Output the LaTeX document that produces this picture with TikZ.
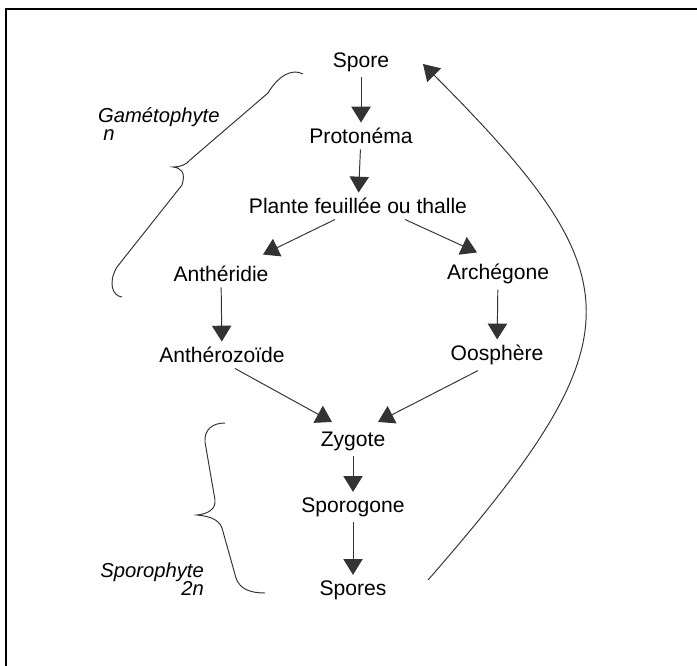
\documentclass[tikz,border=0pt]{standalone}
\usepackage{fontspec}
\setmainfont{Liberation Sans}
\usetikzlibrary{arrows.meta,calc}

\begin{document}
\begin{tikzpicture}[x=0.02cm,y=-0.02cm,
    stage/.style={font=\fontsize{12}{14}\selectfont, inner sep=3pt},
    phase/.style={font=\fontsize{11.5}{10.5}\selectfont\itshape},
    fleche/.style={draw=black!80, line width=0.55pt, -{Triangle[length=9pt,width=11pt]}},
    accolade/.style={draw=black!80, line width=0.55pt}]
    \useasboundingbox (0,0) rectangle (697,666);
    \draw[line width=1.3pt] (6,666) -- (6,9) -- (697,9);
    % life cycle stages
    \node[stage] (spore) at (361,62) {Spore};
    \node[stage] (protonema) at (361,136) {Protonéma};
    \node[stage] (plante) at (358,206) {Plante feuillée ou thalle};
    \node[stage] (antheridie) at (221,274) {Anthéridie};
    \node[stage] (archegone) at (498,274) {Archégone};
    \node[stage] (antherozoide) at (222,355) {Anthérozoïde};
    \node[stage] (oosphere) at (497,355) {Oosphère};
    \node[stage] (zygote) at (353,441) {Zygote};
    \node[stage] (sporogone) at (353,507) {Sporogone};
    \node[stage] (spores) at (353,590) {Spores};
    % phases
    \node[phase, anchor=west, align=left] (gameto) at (92,124) {Gamétophyte\\\hspace{3pt}\textit{n}};
    \node[phase, anchor=east, align=right] (sporo) at (210,579) {Sporophyte\\2\textit{n}};
    % arrows
    \draw[fleche] (spore) -- (protonema);
    \draw[fleche] (protonema) -- (plante);
    \draw[fleche] ($(plante.south)+(-23,0)$) -- ($(antheridie.north)+(42,-6)$);
    \draw[fleche] ($(plante.south)+(47,0)$) -- ($(archegone.north)+(-21,-6)$);
    \draw[fleche] (antheridie) -- (antherozoide);
    \draw[fleche] (archegone) -- (oosphere);
    \draw[fleche] ($(antherozoide.south)+(13,0)$) -- ($(zygote.north)+(-21,-4)$);
    \draw[fleche] ($(oosphere.south)+(-19,0)$) -- ($(zygote.north)+(25,-4)$);
    \draw[fleche] (zygote) -- (sporogone);
    \draw[fleche] (sporogone) -- (spores);
    \draw[fleche] ($(spores)+(75,-10)$) .. controls (641,336) and (635,277) .. ($(spore)+(62,2)$);
    % braces
    \draw[accolade] (303,74) .. controls (292,68) and (278,76) .. (268,93)
        -- (190,160) .. controls (186,165) and (180,167) .. (173,167)
        .. controls (181,168) and (186,172) .. (182,185)
        -- (117,267) .. controls (108,282) and (112,296) .. (122,297);
    \draw[accolade] (225,423) .. controls (212,423) and (204,430) .. (205,442)
        -- (215,500) .. controls (216,509) and (208,514) .. (197,515)
        .. controls (208,516) and (219,519) .. (222,528)
        -- (236,578) .. controls (240,590) and (252,593) .. (265,593);
\end{tikzpicture}
\end{document}
